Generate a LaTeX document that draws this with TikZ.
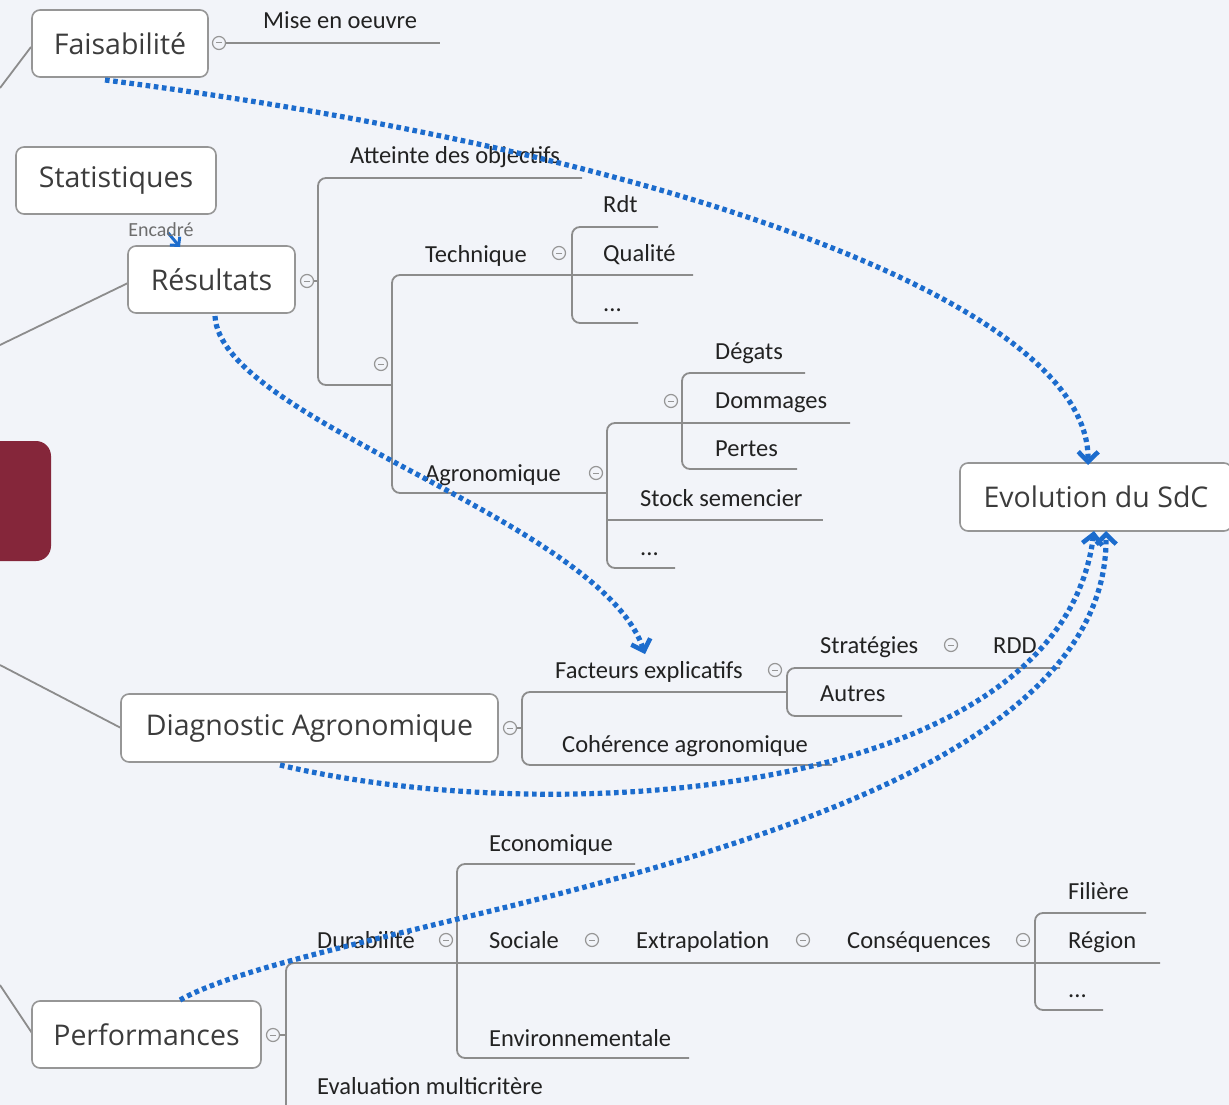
\documentclass[tikz,border=0pt]{standalone}
\usepackage{fontspec}
\setmainfont{Carlito}
\newfontfamily\boxfont{Open Sans}
\usetikzlibrary{arrows.meta}
\definecolor{bgc}{RGB}{242,244,249}
\definecolor{branch}{RGB}{140,140,140}
\definecolor{boxline}{RGB}{150,150,150}
\definecolor{txt}{RGB}{34,34,34}
\definecolor{boxtxt}{RGB}{60,60,60}
\definecolor{relblue}{RGB}{28,108,205}
\definecolor{wine}{RGB}{133,38,58}
\tikzset{
  topic/.style={draw=boxline, line width=1.6pt, fill=white, rounded corners=8pt,
    inner sep=0pt, text=boxtxt, font=\boxfont\fontsize{28.5}{32}\selectfont},
  lbl/.style={anchor=base west, inner sep=0pt, text=txt, font=\fontsize{24.5}{28}\selectfont},
  br/.style={draw=branch, line width=1.8pt, rounded corners=8pt},
  relation/.style={draw=relblue, line width=5.2pt, dash pattern=on 4.6pt off 3.6pt,
    -{Straight Barb[length=10pt,width=20pt,line width=4.6pt]}},
}
\newcommand{\fold}[2]{%
  \draw[draw=boxline, line width=1.2pt, fill=bgc] (#1,#2) circle (6.5pt);
  \draw[draw=boxline, line width=1pt] (#1-3,#2) -- (#1+3,#2);}
\begin{document}
\begin{tikzpicture}[x=1pt,y=-1pt]
\useasboundingbox (0,0) rectangle (1229,1105);
\fill[bgc] (0,0) rectangle (1229,1105);
\clip (0,0) rectangle (1229,1105);

% collapsed main topic at the left edge
\fill[wine, rounded corners=15pt] (-30,441) rectangle (51,561);

% links towards the central topic (outside the page)
\coordinate (cA) at (0,88);
\coordinate (cB) at (0,345);
\coordinate (cC) at (0,665);
\coordinate (cD) at (0,985);
\draw[br] (cA) -- (31,47);
\draw[br] (cB) -- (128,283);
\draw[br] (cC) -- (121,728);
\draw[br] (cD) -- (32,1033);

% ---- Faisabilité
\draw[br] (214,43) -- (440,43);
\node[lbl] (mise) at (263,29) {Mise en oeuvre};
\fold{219}{43}

% ---- Résultats
\draw[br] (300,281) -- (318,281);
\draw[br] (582,178) -| (318,385) -- (392,385);
\node[lbl] (atteinte) at (350,164) {Atteinte des objectifs};
\fold{307}{281}
\fold{381}{364}
\draw[br] (693,275) -| (392,493) -- (607,493);
\node[lbl] (tech) at (425,262) {Technique};
\node[lbl] (agro) at (425,481) {Agronomique};
\draw[br] (658,227) -| (572,323) -- (638,323);
\node[lbl] (rdt) at (603,212) {Rdt};
\node[lbl] (qual) at (603,261) {Qualité};
\node[lbl] (tdots) at (603,311) {...};
\fold{559}{253}
\draw[br] (850,423) -| (607,568) -- (675,568);
\draw[br] (607,520) -- (823,520);
\draw[br] (805,373) -| (682,469) -- (797,469);
\node[lbl] (degats) at (715,359) {Dégats};
\node[lbl] (domm) at (715,408) {Dommages};
\node[lbl] (pertes) at (715,456) {Pertes};
\node[lbl] (stock) at (640,506) {Stock semencier};
\node[lbl] (adots) at (640,555) {...};
\fold{596}{473}
\fold{671}{401}

% ---- Diagnostic Agronomique
\draw[br] (504,728) -- (522,728);
\draw[br] (787,692) -| (522,765) -- (832,765);
\draw[br] (1060,668) -| (787,716) -- (902,716);
\node[lbl] (fact) at (555,678) {Facteurs explicatifs};
\node[lbl] (strat) at (820,653) {Stratégies};
\node[lbl] (rdd) at (993,653) {RDD};
\node[lbl] (autres) at (820,701) {Autres};
\node[lbl] (coher) at (562,752) {Cohérence agronomique};
\fold{510}{728}
\fold{775}{670}
\fold{951}{645}

% ---- Performances
\draw[br] (267,1035) -- (286,1035);
\draw[br] (1160,963) -| (286,1125);
\draw[br] (635,864) -| (457,1058) -- (689,1058);
\draw[br] (1146,913) -| (1035,1010) -- (1103,1010);
\node[lbl] (durab) at (317,948) {Durabilité};
\node[lbl] (eco) at (489,851) {Economique};
\node[lbl] (soc) at (489,948) {Sociale};
\node[lbl] (extra) at (636,948) {Extrapolation};
\node[lbl] (cons) at (847,948) {Conséquences};
\node[lbl] (fil) at (1068,899) {Filière};
\node[lbl] (reg) at (1068,948) {Région};
\node[lbl] (pdots) at (1068,997) {...};
\node[lbl] (env) at (489,1046) {Environnementale};
\node[lbl] (evalm) at (317,1094) {Evaluation multicritère};
\fold{273}{1035}
\fold{446}{940}
\fold{592}{940}
\fold{803}{940}
\fold{1023}{940}

% ---- topics
\node[topic, minimum width=176pt, minimum height=67pt] (fais) at (120,43.5) {Faisabilité};
\node[topic, minimum width=200pt, minimum height=67pt] (stat) at (116,180.5) {Statistiques};
\node[topic, minimum width=167pt, minimum height=67pt] (res) at (211.5,279.5) {Résultats};
\node[topic, minimum width=377pt, minimum height=68pt] (diag) at (309.5,728) {Diagnostic Agronomique};
\node[topic, minimum width=229pt, minimum height=67pt] (perf) at (146.5,1034.5) {Performances};
\node[topic, minimum width=272pt, minimum height=68pt] (evol) at (1096,497) {Evolution du SdC};

% ---- relations
\coordinate (evtop) at (1088,465);
\coordinate (evbot1) at (1094,531);
\coordinate (evbot2) at (1106,531);
\coordinate (facttop) at (645,654);
\draw[relation] (105,80) .. controls (650,150) and (1090,300) .. (evtop);
\draw[relation] (215,316) .. controls (220,420) and (600,520) .. (facttop);
\draw[relation] (280,765) .. controls (550,830) and (1060,800) .. (evbot1);
\draw[relation] (180,1000) .. controls (330,915) and (1110,850) .. (evbot2);
\draw[draw=relblue, line width=3pt, -{Straight Barb[length=6pt,width=13pt,line width=3pt]}] (stat.south) ++(52,18) -- (180,247);
\node[anchor=base, inner sep=0pt, text=boxtxt!75, font=\fontsize{20}{22}\selectfont] (enc) at (161,236) {Encadré};
\end{tikzpicture}
\end{document}
